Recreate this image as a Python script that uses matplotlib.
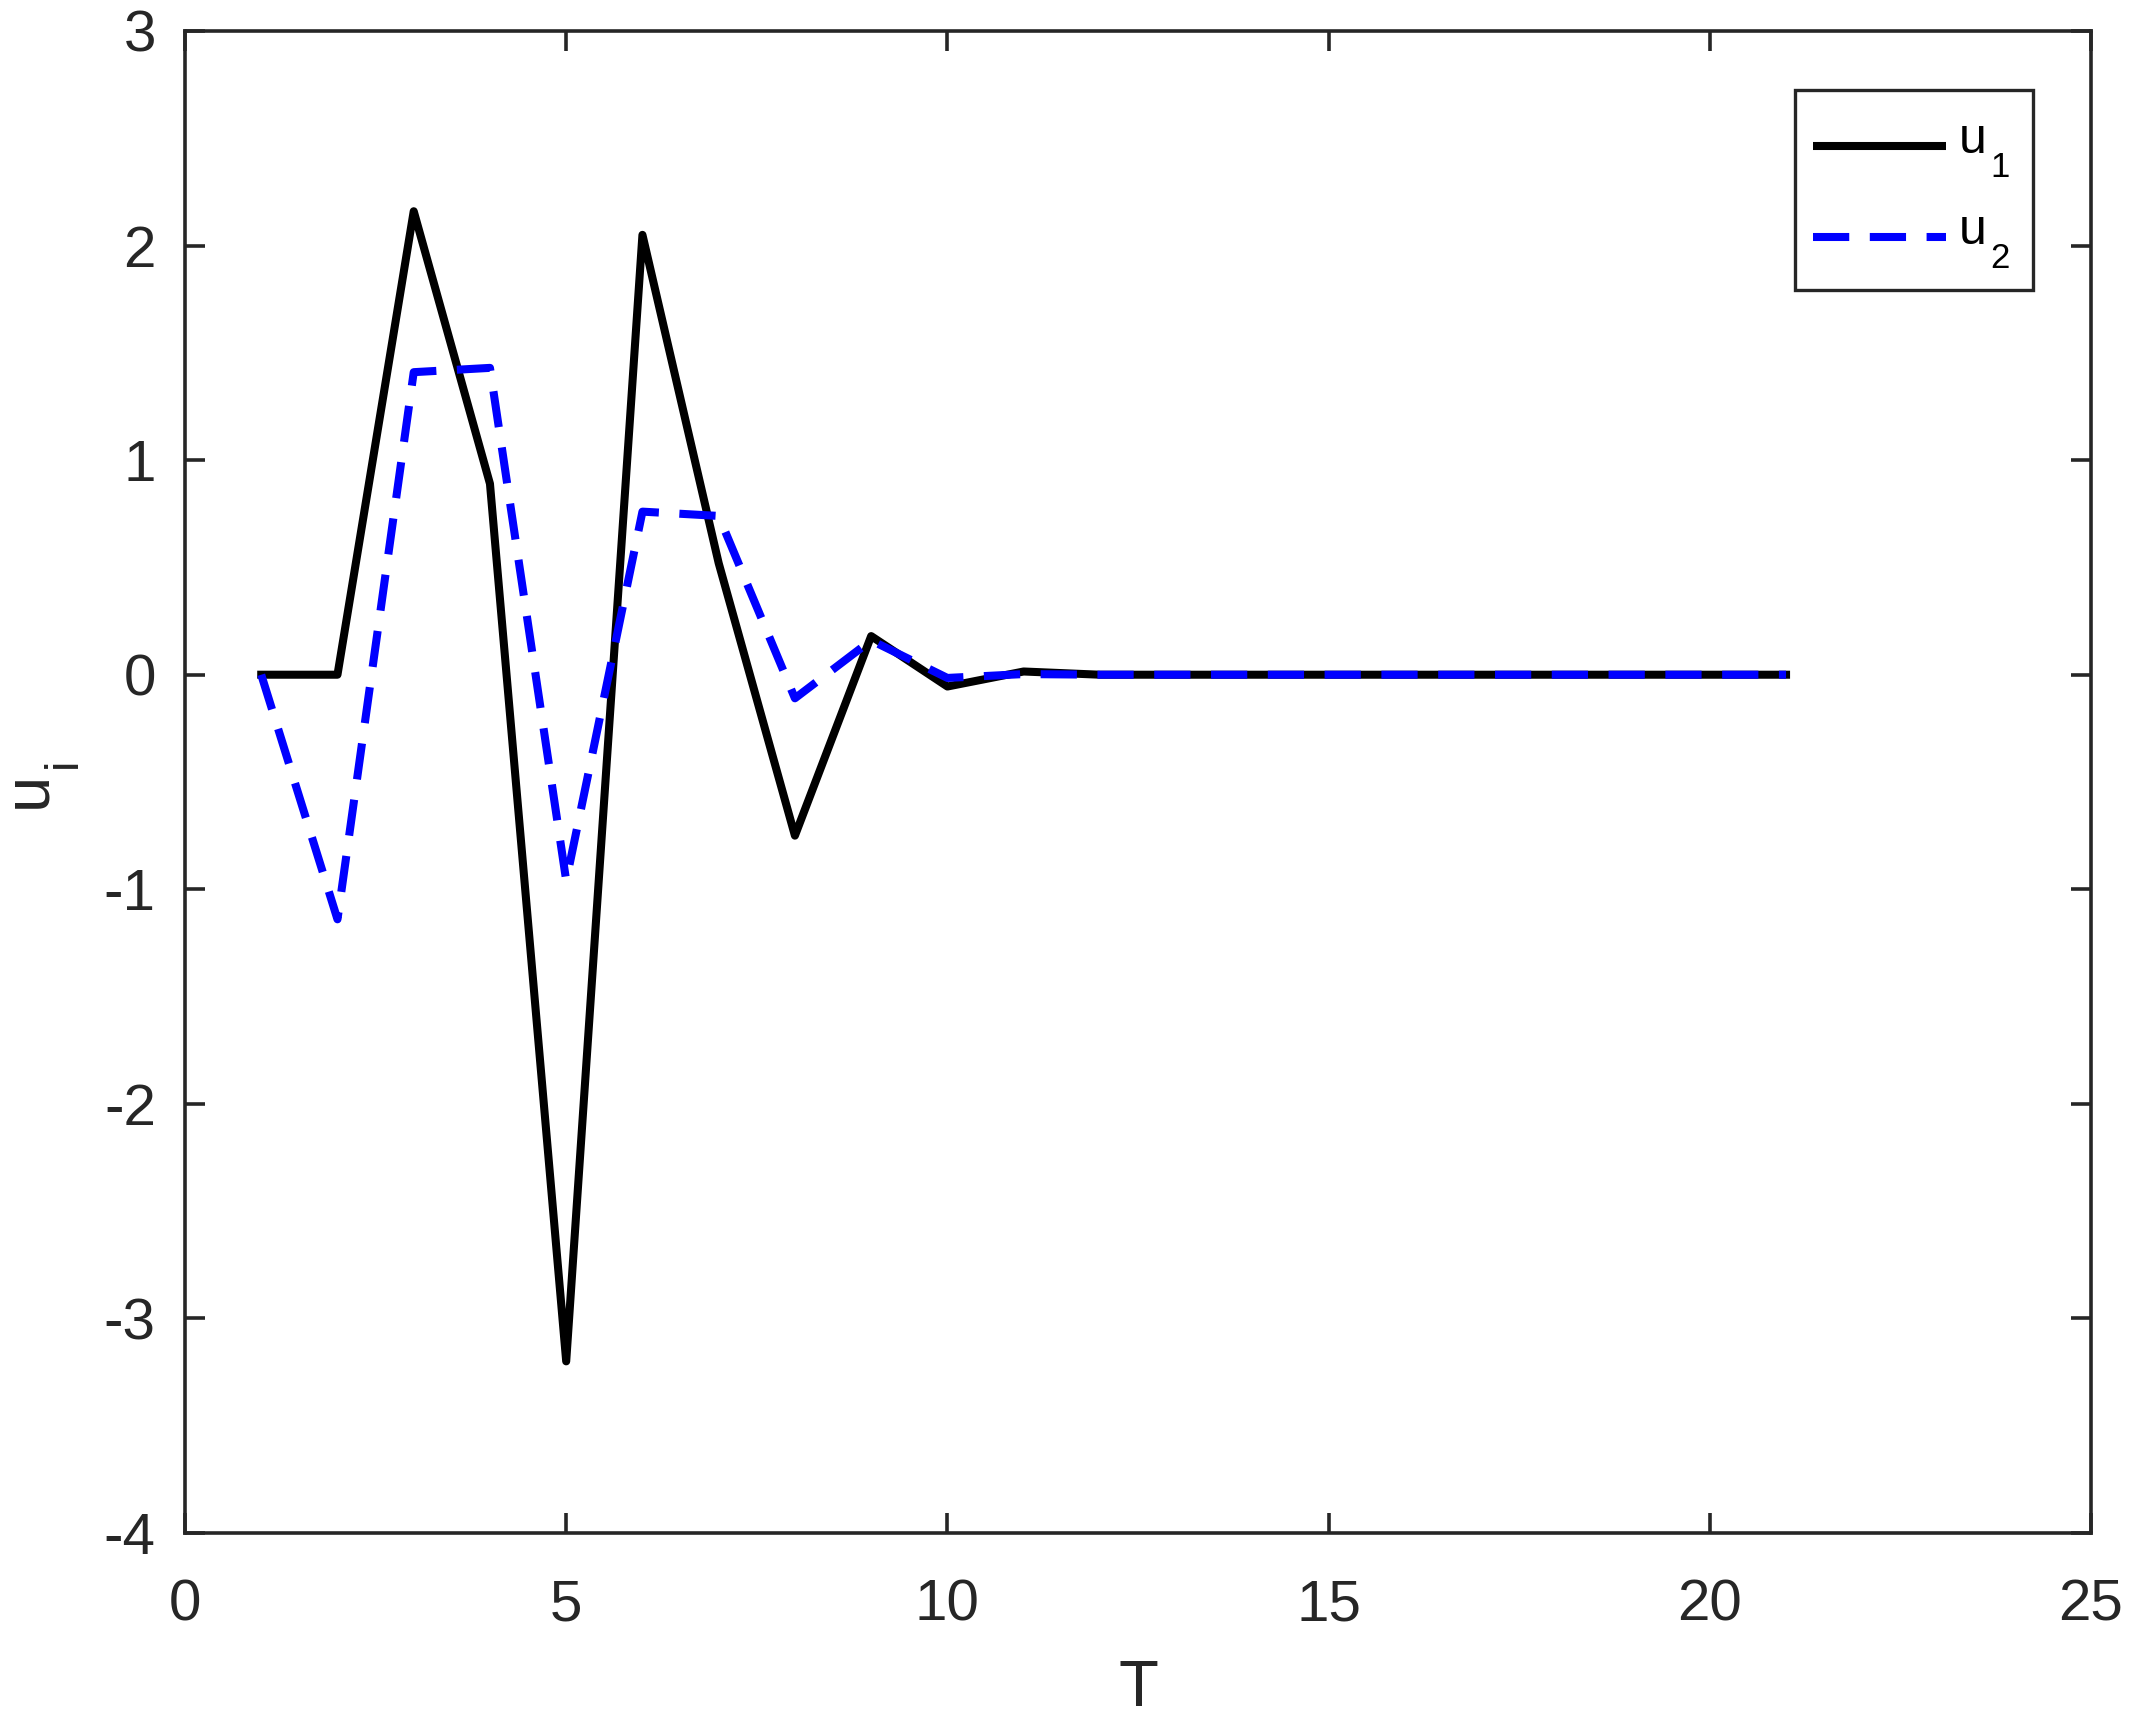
import numpy as np
import matplotlib
matplotlib.use('Agg')
import matplotlib.pyplot as plt
from matplotlib.lines import Line2D
from matplotlib.patches import Rectangle

plt.rcParams['font.family'] = ['Liberation Sans', 'DejaVu Sans']
plt.rcParams['axes.unicode_minus'] = False

T = np.arange(1, 22)
u1 = [0, 0, 2.16, 0.89, -3.20, 2.05, 0.52, -0.75, 0.18, -0.055, 0.015,
      0, 0, 0, 0, 0, 0, 0, 0, 0, 0]
u2 = [0, -1.14, 1.41, 1.43, -0.96, 0.76, 0.74, -0.11, 0.16, -0.015, 0.003,
      0, 0, 0, 0, 0, 0, 0, 0, 0, 0]
names = ['u', 'u']
subs = ['1', '2']

xticks = [0, 5, 10, 15, 20, 25]
yticks = [-4, -3, -2, -1, 0, 1, 2, 3]

gray = '#262626'
W, H = 2142, 1722

def px(x, y):
    # pixel position (from top left) -> figure fraction
    return x / W, 1 - y / H

fig = plt.figure(figsize=(W / 100, H / 100), dpi=100)
l, t = px(185, 31)
r, b = px(2091, 1533)
ax = fig.add_axes([l, b, r - l, t - b])

styles = [dict(color='k', lw=5.8), dict(color='b', lw=5.8, dashes=(4.5, 2.55))]
ax.plot(T, u1, **styles[0])
ax.plot(T, u2, **styles[1])

ax.set_xlim(0, 25)
ax.set_ylim(-4, 3)
ax.set_xticks(xticks)
ax.set_yticks(yticks)
ax.tick_params(direction='in', length=14.4, width=2.6, colors=gray, labelsize=42,
               top=True, right=True)
ax.tick_params(axis='x', pad=33)
ax.tick_params(axis='y', pad=21)
for s in ax.spines.values():
    s.set_color(gray)
    s.set_linewidth(2.6)

ax.set_xlabel('T', fontsize=47, color=gray, labelpad=19)

# y label u_i with MATLAB-like subscript
fig.text(*px(45, 790), 'u', rotation=90, rotation_mode='anchor',
         ha='center', va='baseline', fontsize=47, color=gray)
fig.text(*px(76, 768), 'i', rotation=90, rotation_mode='anchor',
         ha='left', va='baseline', fontsize=34, color=gray)

# legend box
x0, y0 = px(1795, 290)
x1, y1 = px(2033, 90)
fig.patches.append(Rectangle((x0, y0), x1 - x0, y1 - y0, transform=fig.transFigure,
                             facecolor='white', edgecolor=gray, lw=2.4, zorder=5))
rows = [146, 237]
for i in range(2):
    yy = rows[i]
    xa, ya = px(1813, yy)
    xb, _ = px(1946, yy)
    fig.lines.append(Line2D([xa, xb], [ya, ya], transform=fig.transFigure,
                            zorder=6, solid_capstyle='butt', **styles[i]))
    fig.text(*px(1959, yy + 7), names[i], ha='left', va='baseline',
             fontsize=36, color='k', zorder=7)
    fig.text(*px(1990, yy + 31), subs[i], ha='left', va='baseline',
             fontsize=25, color='k', zorder=7)

fig.savefig('out.png', dpi=100)
